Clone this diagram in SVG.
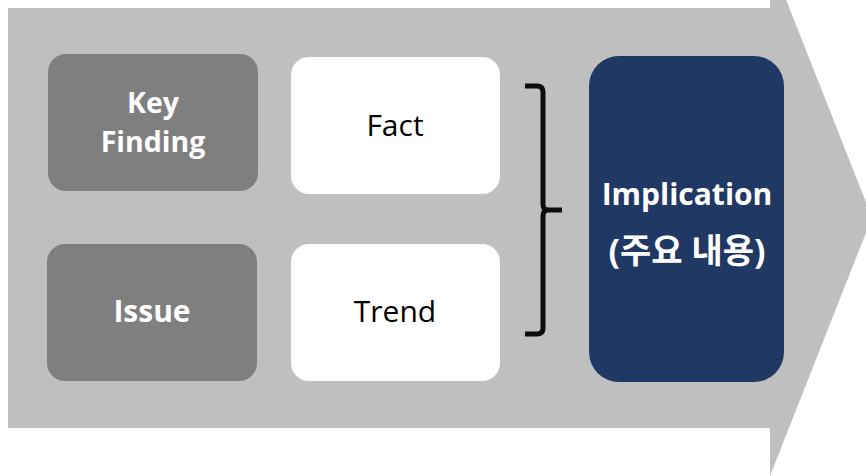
<svg xmlns="http://www.w3.org/2000/svg" width="866" height="476" viewBox="0 0 866 476">
<style>
.dark{fill:#7f7f7f}
.white{fill:#ffffff}
.navy{fill:#203864}
.t{font-family:"Open Sans","Noto Sans CJK KR",sans-serif;font-size:30px;text-anchor:middle}
.tb{font-weight:bold;fill:#ffffff}
.tn{fill:#000000}
</style>
<rect width="866" height="476" fill="#ffffff"/>
<g id="arrow">
<path d="M8 8 H770 V-41 L872 217.5 L770 476 V428 H8 Z" fill="#bfbfbf"/>
</g>
<g id="key-finding">
<rect class="dark" x="48" y="54" width="210" height="137" rx="18"/>
<text class="t tb" x="153" y="113" style="font-size:28.5px">Key</text>
<text class="t tb" x="153" y="151.5" style="font-size:28.5px">Finding</text>
</g>
<g id="issue">
<rect class="dark" x="47" y="244" width="210" height="137" rx="18"/>
<text class="t tb" x="152" y="322">Issue</text>
</g>
<g id="fact">
<rect class="white" x="291" y="57" width="209" height="137" rx="18"/>
<text class="t tn" x="395" y="136">Fact</text>
</g>
<g id="trend">
<rect class="white" x="291" y="244" width="209" height="137" rx="18"/>
<text class="t tn" x="395" y="322">Trend</text>
</g>
<g id="implication">
<rect class="navy" x="589" y="56" width="195" height="326" rx="30"/>
<text class="t tb" x="687" y="205">Implication</text>
<text class="t tb" x="687" y="263" style="font-size:34px">(주요 내용)</text>
</g>
<g id="connectors">
<path d="M525 86 H537 Q543 86 543 92 V204 Q543 210 548 210 H562 M548 210 Q543 210 543 216 V328 Q543 334 537 334 H525" fill="none" stroke="#0d0d0d" stroke-width="5"/>
</g>
</svg>
